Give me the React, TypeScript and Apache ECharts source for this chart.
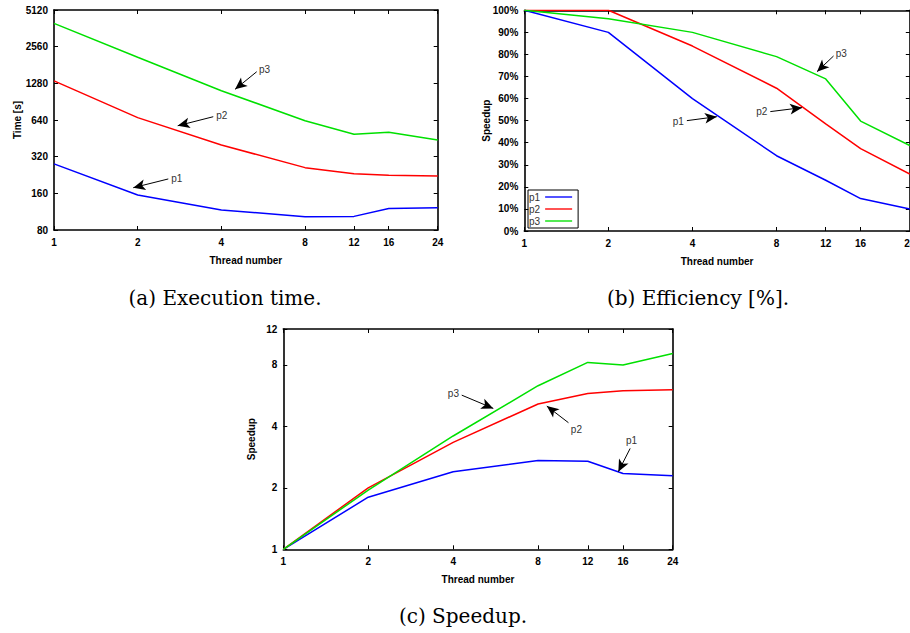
import React, { useEffect, useRef } from 'react';
import * as echarts from 'echarts';

// ---------- data ----------
const threads = [1, 2, 4, 8, 12, 16, 24];
const seriesNames = ['p1', 'p2', 'p3'];
const seriesColors = ['#0000ff', '#ff0000', '#00e000'];

// (a) execution time [s]
const timeP1 = [279, 155, 117, 103, 103.5, 120, 122];
const timeP2 = [1340, 669, 399, 260, 232, 225, 222];
const timeP3 = [3980, 2095, 1114, 631, 488, 507, 438];

// (b) efficiency [%]
const effP1 = [100, 90, 60, 34.1, 23, 14.7, 10];
const effP2 = [100, 100, 83.8, 64.7, 48.5, 37.3, 25.8];
const effP3 = [100, 96.2, 90, 79, 68.9, 49.8, 38.7];

// (c) speedup
const spdP1 = [1, 1.8, 2.4, 2.72, 2.7, 2.35, 2.29];
const spdP2 = [1, 2.0, 3.34, 5.15, 5.8, 5.98, 6.05];
const spdP3 = [1, 1.95, 3.59, 6.33, 8.23, 8.0, 9.1];

// tick labels
const threadTicks = [1, 2, 4, 8, 12, 16, 24];
const timeTicks = [80, 160, 320, 640, 1280, 2560, 5120];
const speedTicks = [1, 2, 4, 8, 12];

// arrow annotations (data coordinates: from = tail near label, to = arrow head)
const timeNotes = [
  { name: 'p3', from: [5.36, 1594], to: [4.48, 1143], align: 'left', vAlign: 'middle' },
  { name: 'p2', from: [3.74, 681], to: [2.786, 574], align: 'left', vAlign: 'middle' },
  { name: 'p1', from: [2.577, 210], to: [1.928, 178], align: 'left', vAlign: 'middle' },
];
const effNotes = [
  { name: 'p3', from: [12.8, 79.3], to: [11.17, 72.2], align: 'left', vAlign: 'middle' },
  { name: 'p2', from: [7.6, 54.1], to: [9.87, 55.9], align: 'right', vAlign: 'middle' },
  { name: 'p1', from: [3.82, 50], to: [4.89, 51.8], align: 'right', vAlign: 'middle' },
];
const spdNotes = [
  { name: 'p3', from: [4.29, 5.69], to: [5.55, 4.9], align: 'right', vAlign: 'middle' },
  { name: 'p2', from: [10.25, 4.17], to: [8.59, 5.03], align: 'left', vAlign: 'top' },
  { name: 'p1', from: [16.96, 3.12], to: [15.4, 2.4], align: 'center', vAlign: 'bottom' },
];

const captions = ['(a) Execution time.', '(b) Efficiency [%].', '(c) Speedup.'];

// ---------- helpers ----------
const lg = (v: number) => Math.log2(v);
const fmtPow = (v: number) => String(Math.round(Math.pow(2, v)));

const tickFont = {
  fontFamily: '"Liberation Sans", Arial, sans-serif',
  fontWeight: 'bold' as const,
  fontSize: 10,
  color: '#000',
};

function xAxesFor(gi: number) {
  const common = {
    type: 'value',
    gridIndex: gi,
    min: 0,
    max: lg(24),
    splitLine: { show: false },
    axisLine: { show: true, onZero: false, lineStyle: { color: '#000', width: 1.6 } },
    axisTick: {
      show: true,
      inside: true,
      length: 4,
      customValues: threadTicks.map(lg),
      lineStyle: { color: '#000', width: 1 },
    },
  };
  return [
    {
      ...common,
      position: 'bottom',
      name: 'Thread number',
      nameLocation: 'middle',
      nameGap: 25,
      nameMoveOverlap: false,
      nameTextStyle: { ...tickFont },
      axisLabel: {
        show: true,
        customValues: threadTicks.map(lg),
        formatter: fmtPow,
        margin: 7,
        ...tickFont,
      },
    },
    { ...common, position: 'top', axisLabel: { show: false } },
  ];
}

function yAxesFor(gi: number, kind: 'time' | 'eff' | 'spd') {
  let range: any;
  let tick: any;
  let label: any;
  if (kind === 'time') {
    range = { min: lg(80), max: lg(5120) };
    tick = { customValues: timeTicks.map(lg) };
    label = { customValues: timeTicks.map(lg), formatter: fmtPow };
  } else if (kind === 'spd') {
    range = { min: 0, max: lg(12) };
    tick = { customValues: speedTicks.map(lg) };
    label = { customValues: speedTicks.map(lg), formatter: fmtPow };
  } else {
    range = { min: 0, max: 100, interval: 10 };
    tick = {};
    label = { formatter: '{value}%' };
  }
  const common = {
    type: 'value',
    gridIndex: gi,
    ...range,
    splitLine: { show: false },
    axisLine: { show: true, onZero: false, lineStyle: { color: '#000', width: 1.6 } },
    axisTick: { show: true, inside: true, length: 4, lineStyle: { color: '#000', width: 1 }, ...tick },
  };
  const nameGap = kind === 'time' ? 32 : kind === 'eff' ? 33 : 27;
  return [
    {
      ...common,
      position: 'left',
      name: kind === 'time' ? 'Time [s]' : 'Speedup',
      nameLocation: 'middle',
      nameGap,
      nameMoveOverlap: false,
      nameTextStyle: { ...tickFont },
      axisLabel: { show: true, margin: 6, ...tickFont, ...label },
    },
    { ...common, position: 'right', axisLabel: { show: false } },
  ];
}

function notesToMarkLine(notes: any[], tx: (p: number[]) => number[]) {
  return {
    silent: true,
    animation: false,
    symbol: ['none', 'arrow'],
    symbolSize: [8, 12],
    lineStyle: { color: '#000', width: 1, type: 'solid' },
    label: {
      show: true,
      position: 'start',
      distance: 3,
      formatter: '{b}',
      color: '#333',
      fontSize: 10,
      fontFamily: '"Liberation Sans", Arial, sans-serif',
    },
    emphasis: { disabled: true },
    data: notes.map((n) => {
      const lbl = { show: true, align: n.align, verticalAlign: n.vAlign };
      return [
        { name: n.name, coord: tx(n.from), label: lbl },
        { name: n.name, coord: tx(n.to), label: lbl },
      ];
    }),
  };
}

function buildOption() {
  const grids = [
    { left: 54, top: 10, width: 383.7, height: 220, outerBoundsMode: 'none', containLabel: false },
    { left: 524.3, top: 10.3, width: 385.5, height: 220.7, outerBoundsMode: 'none', containLabel: false },
    { left: 283.3, top: 329, width: 389.4, height: 220.3, outerBoundsMode: 'none', containLabel: false },
  ];

  const panels = [
    { vals: [timeP1, timeP2, timeP3], ty: (v: number) => lg(v), notes: timeNotes },
    { vals: [effP1, effP2, effP3], ty: (v: number) => v, notes: effNotes },
    { vals: [spdP1, spdP2, spdP3], ty: (v: number) => lg(v), notes: spdNotes },
  ];

  const series: any[] = [];
  panels.forEach((panel, gi) => {
    panel.vals.forEach((vals, si) => {
      const s: any = {
        type: 'line',
        name: seriesNames[si],
        xAxisIndex: gi * 2,
        yAxisIndex: gi * 2,
        data: threads.map((t, k) => [lg(t), panel.ty(vals[k])]),
        symbol: 'none',
        showSymbol: false,
        silent: true,
        lineStyle: { width: 1.5, color: seriesColors[si] },
        itemStyle: { color: seriesColors[si] },
        emphasis: { disabled: true },
        z: 3,
      };
      if (si === 0) {
        s.markLine = notesToMarkLine(panel.notes, (p) => [lg(p[0]), panel.ty(p[1])]);
      }
      series.push(s);
    });
  });

  const captionPos = [
    [225, 298],
    [698, 298],
    [463, 616],
  ];

  return {
    animation: false,
    backgroundColor: '#fff',
    grid: grids,
    xAxis: [...xAxesFor(0), ...xAxesFor(1), ...xAxesFor(2)],
    yAxis: [...yAxesFor(0, 'time'), ...yAxesFor(1, 'eff'), ...yAxesFor(2, 'spd')],
    legend: {
      show: true,
      data: seriesNames.map((n) => ({ name: n, icon: 'path://M0,0H20V1H0Z' })),
      orient: 'vertical',
      left: 528,
      top: 190,
      align: 'right',
      itemWidth: 27,
      itemHeight: 10,
      itemGap: 2,
      symbolKeepAspect: true,
      padding: [2, 6, 2, 1],
      borderColor: '#000',
      borderWidth: 1,
      selectedMode: false,
      itemStyle: { borderWidth: 0 },
      textStyle: { fontSize: 10, color: '#333', fontFamily: '"Liberation Sans", Arial, sans-serif' },
      z: 10,
    },
    series,
    graphic: captions.map((c, i) => ({
      type: 'text',
      x: captionPos[i][0],
      y: captionPos[i][1],
      style: {
        text: c,
        fontFamily: '"DejaVu Serif", serif',
        fontSize: 20,
        fill: '#000',
        align: 'center',
        verticalAlign: 'middle',
      },
    })),
  };
}

export default function App() {
  const ref = useRef<HTMLDivElement>(null);
  useEffect(() => {
    const chart = echarts.init(ref.current!, null, { renderer: 'svg' });
    chart.setOption(buildOption() as any);
    return () => chart.dispose();
  }, []);
  return (
    <div
      ref={ref}
      style={{ position: 'absolute', left: 0, top: 0, width: 910, height: 633, background: '#fff' }}
    />
  );
}
